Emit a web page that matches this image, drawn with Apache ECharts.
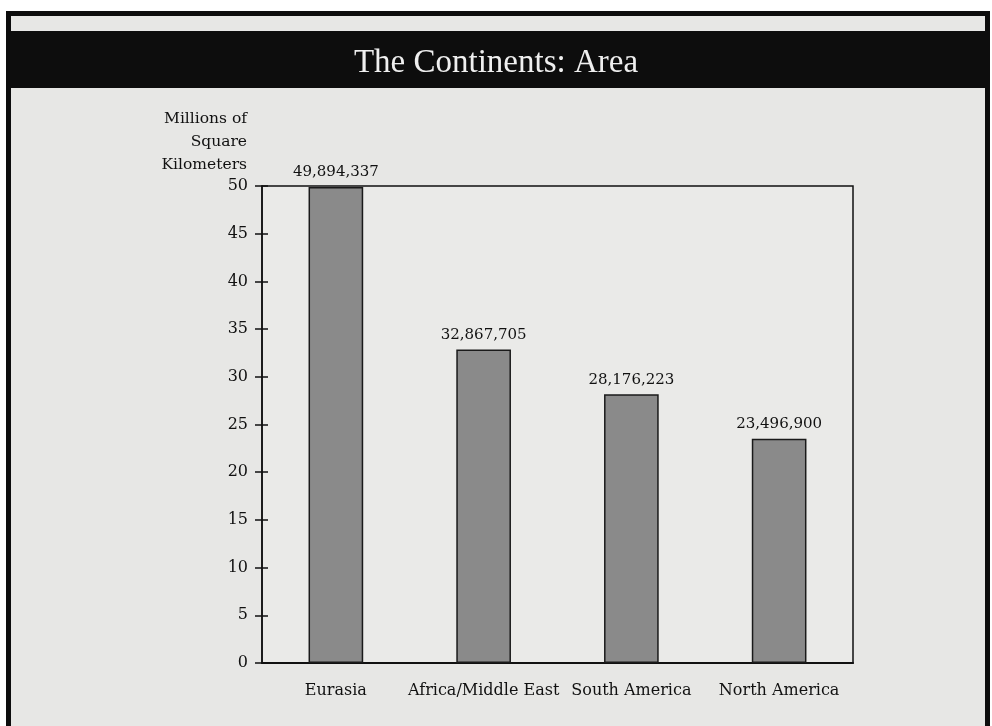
<!DOCTYPE html>
<html>
<head>
<meta charset="utf-8">
<script src="https://cdn.jsdelivr.net/npm/echarts@6/dist/echarts.min.js"></script>
<style>
html,body{margin:0;padding:0;background:#fff;}
#c{width:992px;height:726px;}
</style>
</head>
<body>
<div id="c"></div>
<script>
const categories = ['Eurasia', 'Africa/Middle East', 'South America', 'North America'];
const areaMillions = [49.894337, 32.867705, 28.176223, 23.4969];
const areaLabels = ['49,894,337', '32,867,705', '28,176,223', '23,496,900'];
const yTicks = [0, 5, 10, 15, 20, 25, 30, 35, 40, 45, 50];

const chart = echarts.init(document.getElementById('c'), null, {renderer: 'canvas'});
const serif = 'DejaVu Serif';
chart.setOption({
  animation: false,
  backgroundColor: '#ffffff',
  graphic: [
    {type: 'rect', z: -10, shape: {x: 8.5, y: 13.5, width: 979, height: 730}, style: {fill: '#e7e7e5', stroke: '#0d0d0d', lineWidth: 5}},
    {type: 'rect', z: -9, shape: {x: 6, y: 31, width: 984, height: 57}, style: {fill: '#0d0d0d'}}
  ],
  title: {
    text: 'The Continents: Area',
    left: 'center',
    top: 42,
    textStyle: {color: '#efefef', fontFamily: 'Liberation Serif', fontSize: 33, fontWeight: 'normal'}
  },
  grid: {
    left: 262, right: 139, top: 186, bottom: 63,
    show: true, borderColor: '#111', borderWidth: 1.5, backgroundColor: '#eaeae8'
  },
  xAxis: {
    type: 'category',
    data: categories,
    axisLine: {show: true, lineStyle: {color: '#111', width: 2}},
    axisTick: {show: false},
    axisLabel: {interval: 0, color: '#111', fontFamily: serif, fontSize: 16, margin: 20}
  },
  yAxis: [{
    type: 'value',
    min: 0, max: 50, interval: 5,
    name: 'Millions of\nSquare\nKilometers',
    nameLocation: 'end',
    nameGap: 10,
    nameTextStyle: {align: 'right', verticalAlign: 'bottom', color: '#111', fontFamily: serif, fontSize: 15.5, lineHeight: 23, padding: [0, 15, 0, 0]},
    axisLine: {show: true, lineStyle: {color: '#111', width: 1.5}},
    axisTick: {show: true, inside: false, length: 7, lineStyle: {color: '#111', width: 1.5}},
    axisLabel: {color: '#111', fontFamily: serif, fontSize: 16, margin: 14,
      formatter: v => yTicks.includes(v) ? String(v) : ''},
    splitLine: {show: false}
  }, {
    type: 'value',
    position: 'left',
    min: 0, max: 50, interval: 5,
    axisLine: {show: false},
    axisTick: {show: true, inside: true, length: 6, lineStyle: {color: '#111', width: 1.5}},
    axisLabel: {show: false},
    splitLine: {show: false}
  }],
  series: [{
    type: 'bar',
    data: areaMillions,
    barWidth: '37%',
    itemStyle: {color: '#8a8a8a', borderColor: '#1a1a1a', borderWidth: 1.5},
    label: {
      show: true, position: 'top', distance: 7,
      color: '#111', fontFamily: serif, fontSize: 15,
      formatter: p => areaLabels[p.dataIndex]
    }
  }]
});
</script>
</body>
</html>
